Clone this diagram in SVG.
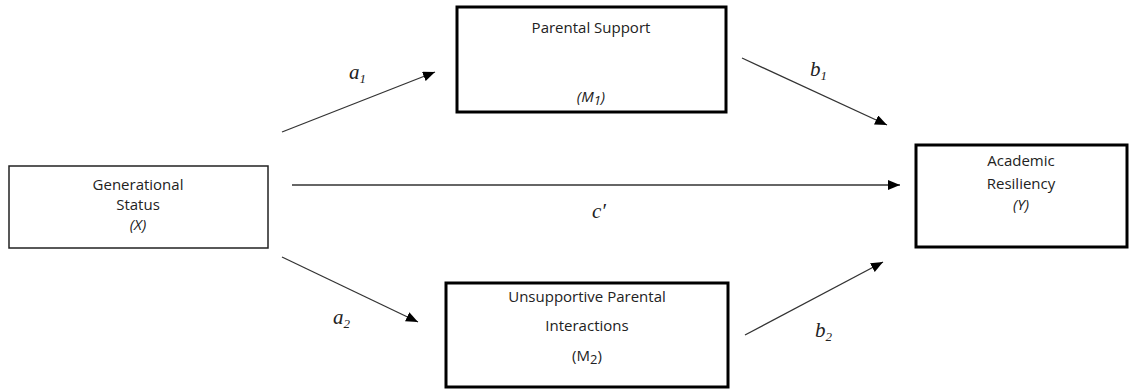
<svg xmlns="http://www.w3.org/2000/svg" width="1130" height="389" viewBox="0 0 1130 389">
<defs>
<style>
.box{fill:#fff;stroke:#000;stroke-width:3}
.thin{fill:#fff;stroke:#222;stroke-width:1.5}
.t{font-family:"Open Sans","Liberation Sans",sans-serif;font-size:15px;fill:#222;text-anchor:middle}
.i{font-style:italic}
.lbl{font-family:"Liberation Serif",serif;font-style:italic;font-size:21px;fill:#222}
.sub{font-size:13px}
.ln{stroke:#333;stroke-width:1.3;fill:none;marker-end:url(#ah)}
</style>
<marker id="ah" viewBox="0 0 12 10" refX="12" refY="5" markerWidth="12" markerHeight="10" markerUnits="userSpaceOnUse" orient="auto">
<path d="M0,0 L12,5 L0,10 Z" fill="#000"/>
</marker>
</defs>
<rect width="1130" height="389" fill="#fff"/>
<g id="connectors">
<line class="ln" x1="282" y1="132" x2="435" y2="72"/>
<line class="ln" x1="282" y1="257" x2="418" y2="322"/>
<line class="ln" x1="292" y1="185" x2="900" y2="185"/>
<line class="ln" x1="742" y1="58" x2="887" y2="125"/>
<line class="ln" x1="745" y1="335" x2="883" y2="262"/>
<text class="lbl" x="349" y="79">a<tspan class="sub" dy="4">1</tspan></text>
<text class="lbl" x="333" y="324">a<tspan class="sub" dy="4">2</tspan></text>
<text class="lbl" x="810" y="76">b<tspan class="sub" dy="4">1</tspan></text>
<text class="lbl" x="815" y="337">b<tspan class="sub" dy="4">2</tspan></text>
<text class="lbl" x="592" y="218">c′</text>
</g>
<g id="node-x">
<rect class="thin" x="9" y="166" width="259" height="82"/>
<text class="t" x="138" y="190">Generational</text>
<text class="t" x="138" y="210">Status</text>
<text class="t i" x="138" y="230">(X)</text>
</g>
<g id="node-m1">
<rect class="box" x="457" y="7" width="269" height="105"/>
<text class="t" x="591" y="33">Parental Support</text>
<text class="t i" x="591" y="102">(M<tspan class="sub" dy="3">1</tspan><tspan dy="-3">)</tspan></text>
</g>
<g id="node-m2">
<rect class="box" x="446" y="283" width="282" height="104"/>
<text class="t" x="587" y="302">Unsupportive Parental</text>
<text class="t" x="587" y="331">Interactions</text>
<text class="t" x="587" y="361">(M<tspan class="sub" dy="3">2</tspan><tspan dy="-3">)</tspan></text>
</g>
<g id="node-y">
<rect class="box" x="916" y="145" width="211" height="102"/>
<text class="t" x="1021" y="166">Academic</text>
<text class="t" x="1021" y="189">Resiliency</text>
<text class="t i" x="1021" y="210">(Y)</text>
</g>
</svg>
